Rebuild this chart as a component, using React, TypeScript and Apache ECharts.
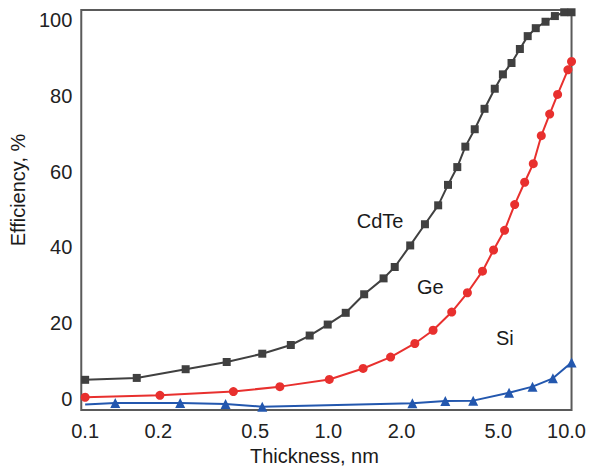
import React, { useEffect, useRef } from 'react';
import * as echarts from 'echarts';

const xTickLabels = [0.1, 0.2, 0.5, 1.0, 2.0, 5.0, 10.0];
const yTickLabels = [0, 20, 40, 60, 80, 100];

const cdteX = [0.1, 0.163, 0.259, 0.382, 0.535, 0.701, 0.838, 0.994, 1.179, 1.404, 1.687, 1.875, 2.171, 2.496, 2.829, 3.104, 3.39, 3.659, 3.999, 4.388, 4.834, 5.221, 5.665, 6.132, 6.603, 7.127, 7.818, 8.541, 9.329, 10.0];
const cdteY = [5.0, 5.5, 7.8, 9.7, 11.9, 14.2, 16.7, 19.6, 22.7, 27.6, 31.8, 34.8, 40.5, 46.1, 51.1, 56.5, 61.2, 66.6, 71.2, 76.6, 81.9, 85.7, 88.7, 92.4, 95.8, 97.9, 99.6, 101.1, 102.1, 102.1];

const geX = [0.1, 0.203, 0.407, 0.632, 1.009, 1.39, 1.803, 2.268, 2.696, 3.216, 3.731, 4.304, 4.779, 5.304, 5.837, 6.416, 6.962, 7.511, 8.13, 8.764, 9.663, 10.0];
const geY = [0.4, 0.9, 1.9, 3.2, 5.1, 8.0, 11.0, 14.6, 18.1, 22.9, 28.0, 33.7, 39.3, 44.5, 51.3, 57.2, 62.1, 69.5, 75.2, 80.4, 86.9, 89.1];

const siX = [0.1, 0.133, 0.246, 0.378, 0.535, 2.216, 3.027, 3.94, 5.535, 6.911, 8.383, 10.0];
const siY = [-1.5, -1.1, -1.1, -1.4, -2.1, -1.2, -0.6, -0.5, 1.6, 3.2, 5.4, 9.6];

const labelNames = ['CdTe', 'Ge', 'Si'];
const labelX = [1.632, 2.627, 5.318];
const labelY = [47.0, 29.5, 16.0];

const FONT = 'Liberation Sans, Arial, sans-serif';

function pairs(xs: number[], ys: number[]) {
  return xs.map((x, i) => [x, ys[i]]);
}

export default function App() {
  const ref = useRef<HTMLDivElement>(null);
  useEffect(() => {
    if (!ref.current) return;
    const chart = echarts.init(ref.current, null, { renderer: 'svg' });
    const colors = ['#404040', '#e8302e', '#2357ae'];
    const markFor = (i: number) => ({
      symbol: 'circle',
      symbolSize: 1,
      itemStyle: { color: 'rgba(0,0,0,0)' },
      label: {
        show: true,
        position: 'inside',
        formatter: labelNames[i],
        fontSize: 20,
        fontFamily: FONT,
        color: '#1a1a1a',
      },
      data: [{ coord: [labelX[i], labelY[i]] }],
    });
    const siData = pairs(siX, siY).map((p, i) =>
      i === 0 ? { value: p, symbol: 'none' } : { value: p }
    );
    chart.setOption({
      animation: false,
      backgroundColor: '#ffffff',
      grid: {
        left: 72,
        right: 17,
        top: 10,
        bottom: 58,
        show: true,
        borderColor: '#5a5a5a',
        borderWidth: 2,
        backgroundColor: 'transparent',
      },
      xAxis: {
        type: 'log',
        logBase: 10,
        min: 0.0964,
        max: 10,
        name: 'Thickness, nm',
        nameLocation: 'middle',
        nameGap: 32,
        nameTextStyle: { fontSize: 20, fontFamily: FONT, color: '#1a1a1a', padding: [0, 24, 0, 0] },
        axisLine: { show: false },
        axisTick: { show: false },
        splitLine: { show: false },
        axisLabel: {
          customValues: xTickLabels,
          margin: 11,
          fontSize: 20,
          fontFamily: FONT,
          color: '#222',
          formatter: (v: number) => (Math.abs(v - 10) < 1e-6 ? '{last|10.0}' : Number(v).toFixed(1)),
          rich: { last: { fontSize: 20, fontFamily: FONT, color: '#222', padding: [0, 10, 0, 0] } },
        },
      },
      yAxis: {
        type: 'value',
        min: -3.0,
        max: 102.7,
        splitNumber: 5,
        name: 'Efficiency, %',
        nameLocation: 'middle',
        nameGap: 44,
        nameTextStyle: { fontSize: 20, fontFamily: FONT, color: '#1a1a1a', padding: [0, 0, 0, 40] },
        axisLine: { show: false },
        axisTick: { show: false },
        splitLine: { show: false },
        axisLabel: {
          customValues: yTickLabels,
          margin: 9,
          fontSize: 20,
          fontFamily: FONT,
          color: '#222',
        },
      },
      series: [
        {
          name: 'CdTe',
          type: 'line',
          clip: false,
          data: pairs(cdteX, cdteY),
          symbol: 'rect',
          symbolSize: 8,
          lineStyle: { color: colors[0], width: 2 },
          itemStyle: { color: colors[0] },
          markPoint: markFor(0),
        },
        {
          name: 'Ge',
          type: 'line',
          clip: false,
          data: pairs(geX, geY),
          symbol: 'circle',
          symbolSize: 9,
          lineStyle: { color: colors[1], width: 2 },
          itemStyle: { color: colors[1] },
          markPoint: markFor(1),
        },
        {
          name: 'Si',
          type: 'line',
          clip: false,
          data: siData,
          symbol: 'triangle',
          symbolSize: 10,
          lineStyle: { color: colors[2], width: 2 },
          itemStyle: { color: colors[2] },
          markPoint: markFor(2),
        },
      ],
    });
    return () => chart.dispose();
  }, []);
  return (
    <div
      ref={ref}
      style={{ position: 'fixed', left: 0, top: 0, width: 589, height: 471, background: '#fff' }}
    />
  );
}
